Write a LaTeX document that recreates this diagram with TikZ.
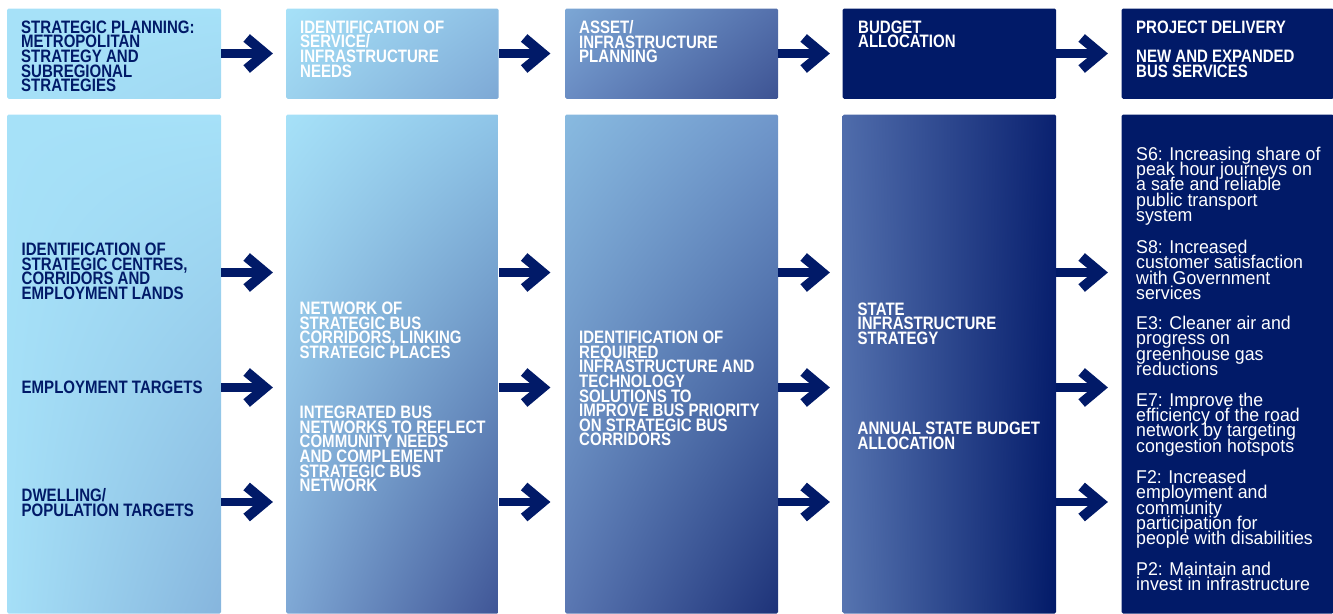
\documentclass[tikz,border=0pt]{standalone}
\usepackage{fontspec}
\usetikzlibrary{shadings}
\newfontfamily\bcond[FakeStretch=0.835]{Liberation Sans}
\newfontfamily\rcond[FakeStretch=0.96]{Liberation Sans}
\newcommand\tightlines{\lineskiplimit=-100pt\relax}
\newcommand\boldtextfont{\bcond\bfseries\fontsize{18pt}{14.6pt}\selectfont\tightlines}
\newcommand\regtextfont{\rcond\fontsize{18.5pt}{15.3pt}\selectfont\tightlines}
\definecolor{navy}{HTML}{011A68}
\definecolor{lightb}{HTML}{A6E1F8}
\definecolor{ta}{HTML}{A0D8F2}
\definecolor{tb1}{HTML}{8EBFE4}
\definecolor{tb2}{HTML}{9CD2EE}
\definecolor{tb3}{HTML}{7DA8D5}
\definecolor{tc0}{HTML}{7CA7D5}
\definecolor{tc1}{HTML}{5470AC}
\definecolor{tc2}{HTML}{6A8CC3}
\definecolor{tc3}{HTML}{3D5393}
\definecolor{ba2}{HTML}{A5DFF7}
\definecolor{ba3}{HTML}{86B5DD}
\definecolor{bb1}{HTML}{8FC5E8}
\definecolor{bb2}{HTML}{7FA8D5}
\definecolor{bb3}{HTML}{3F5596}
\definecolor{bc0}{HTML}{88BAE0}
\definecolor{bc1}{HTML}{7097CB}
\definecolor{bc2}{HTML}{5A77B2}
\definecolor{bc3}{HTML}{1D3278}
\definecolor{bd0}{HTML}{4F6CAB}
\definecolor{bd1}{HTML}{0A2170}
\definecolor{bd2}{HTML}{5674B0}
\definecolor{bd3}{HTML}{021A68}
\tikzset{
  box/.style={anchor=north west, inner sep=0pt, draw=none, rounded corners=1.5pt},
  btxt/.style={anchor=north west, inner sep=0pt, align=left, font=\boldtextfont},
  rtxt/.style={anchor=north west, inner sep=0pt, align=left, text=white, font=\regtextfont},
  pics/fatarrow/.style={code={
    \fill[navy] (0,-4.4) rectangle (40,4.4);
    \fill[navy] (51.5,0) -- (28.5,-19.3) -- (22,-11.7) -- (36.3,0) -- (22,11.7) -- (28.5,19.3) -- cycle;
  }}
}
\begin{document}
\begin{tikzpicture}[x=1pt,y=-1pt]
\useasboundingbox (0,0) rectangle (1333,613);
% top row boxes
\node[box, minimum width=214pt, minimum height=90.4pt, upper left=lightb, upper right=lightb, lower left=lightb, lower right=ta] (t1) at (7,8.3) {};
\node[box, minimum width=212.5pt, minimum height=90.4pt, upper left=lightb, upper right=tb1, lower left=tb2, lower right=tb3] (t2) at (286,8.3) {};
\node[box, minimum width=213pt, minimum height=90.4pt, upper left=tc0, upper right=tc1, lower left=tc2, lower right=tc3] (t3) at (565,8.3) {};
\node[box, fill=navy, minimum width=213.5pt, minimum height=90.4pt] (t4) at (842.5,8.3) {};
\node[box, fill=navy, minimum width=212pt, minimum height=90.4pt] (t5) at (1121.5,8.3) {};
% bottom row boxes
\node[box, minimum width=214pt, minimum height=499pt, upper left=lightb, upper right=lightb, lower left=ba2, lower right=ba3] (b1) at (7,114.3) {};
\node[box, minimum width=212.5pt, minimum height=499pt, upper left=lightb, upper right=bb1, lower left=bb2, lower right=bb3] (b2) at (286,114.3) {};
\node[box, minimum width=213pt, minimum height=499pt, upper left=bc0, upper right=bc1, lower left=bc2, lower right=bc3] (b3) at (565,114.3) {};
\node[box, minimum width=213.5pt, minimum height=499pt, upper left=bd0, upper right=bd1, lower left=bd2, lower right=bd3] (b4) at (842.5,114.3) {};
\node[box, fill=navy, minimum width=212pt, minimum height=499pt] (b5) at (1121.5,114.3) {};
% row levels
\coordinate (r0) at (0,53.5);
\coordinate (r1) at (0,272.5);
\coordinate (r2) at (0,387.5);
\coordinate (r3) at (0,502);
% arrows
\foreach \b in {t1,t2,t3,t4}{\pic at (\b.east |- r0) {fatarrow};}
\foreach \b in {b1,b2,b3,b4}{
  \pic at (\b.east |- r1) {fatarrow};
  \pic at (\b.east |- r2) {fatarrow};
  \pic at (\b.east |- r3) {fatarrow};
}
% top texts
\node[btxt, text=navy] (tt1) at (21,20.5) {STRATEGIC PLANNING:\\METROPOLITAN\\STRATEGY AND\\SUBREGIONAL\\STRATEGIES};
\node[btxt, text=white] (tt2) at (300,20.5) {IDENTIFICATION OF\\SERVICE/\\INFRASTRUCTURE\\NEEDS};
\node[btxt, text=white] (tt3) at (579,20.5) {ASSET/\\INFRASTRUCTURE\\PLANNING};
\node[btxt, text=white] (tt4) at (858,20.5) {BUDGET\\ALLOCATION};
\node[btxt, text=white] (tt5) at (1136,20.5) {PROJECT DELIVERY\\[14.6pt]NEW AND EXPANDED\\BUS SERVICES};
% column 1
\node[btxt, text=navy] (c1a) at (21.5,242.7) {IDENTIFICATION OF\\STRATEGIC CENTRES,\\CORRIDORS AND\\EMPLOYMENT LANDS};
\node[btxt, text=navy] (c1b) at (21.5,380.7) {EMPLOYMENT TARGETS};
\node[btxt, text=navy] (c1c) at (21.5,488.5) {DWELLING/\\POPULATION TARGETS};
% column 2
\node[btxt, text=white] (c2a) at (299.5,301.7) {NETWORK OF\\STRATEGIC BUS\\CORRIDORS, LINKING\\STRATEGIC PLACES};
\node[btxt, text=white] (c2b) at (299.5,406) {INTEGRATED BUS\\NETWORKS TO REFLECT\\COMMUNITY NEEDS\\AND COMPLEMENT\\STRATEGIC BUS\\NETWORK};
% column 3
\node[btxt, text=white] (c3a) at (579,331) {IDENTIFICATION OF\\REQUIRED\\INFRASTRUCTURE AND\\TECHNOLOGY\\SOLUTIONS TO\\IMPROVE BUS PRIORITY\\ON STRATEGIC BUS\\CORRIDORS};
% column 4
\node[btxt, text=white] (c4a) at (857.5,302.3) {STATE\\INFRASTRUCTURE\\STRATEGY};
\node[btxt, text=white] (c4b) at (857.5,421.7) {ANNUAL STATE BUDGET\\ALLOCATION};
% column 5
\node[rtxt] (s6) at (1136,146.7) {S6: Increasing share of\\peak hour journeys on\\a safe and reliable\\public transport\\system};
\node[rtxt] (s8) at (1136,240) {S8: Increased\\customer satisfaction\\with Government\\services};
\node[rtxt] (e3) at (1136,316) {E3: Cleaner air and\\progress on\\greenhouse gas\\reductions};
\node[rtxt] (e7) at (1136,392.7) {E7: Improve the\\efficiency of the road\\network by targeting\\congestion hotspots};
\node[rtxt] (f2) at (1136,470) {F2: Increased\\employment and\\community\\participation for\\people with disabilities};
\node[rtxt] (p2) at (1136,561.7) {P2: Maintain and\\invest in infrastructure};
\end{tikzpicture}
\end{document}
